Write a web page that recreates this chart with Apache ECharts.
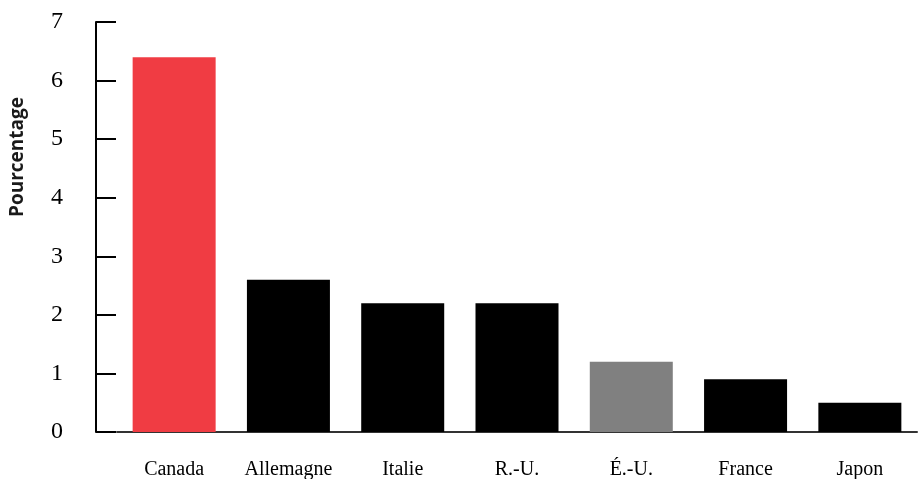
<!DOCTYPE html>
<html>
<head>
<meta charset="utf-8">
<script src="https://cdn.jsdelivr.net/npm/echarts@6/dist/echarts.min.js"></script>
<style>
  html, body { margin: 0; padding: 0; background: #fff; }
  #chart { width: 918px; height: 479px; }
</style>
</head>
<body>
<div id="chart"></div>
<script>
// Countries along the horizontal axis
const countries = ['Canada', 'Allemagne', 'Italie', 'R.-U.', 'É.-U.', 'France', 'Japon'];
// Percentage values per country
const values = [6.4, 2.6, 2.2, 2.2, 1.2, 0.9, 0.5];
// Bar fill per country
const barColors = ['#f03c43', '#000000', '#000000', '#000000', '#808080', '#000000', '#000000'];
// Vertical axis ticks
const yTicks = [0, 1, 2, 3, 4, 5, 6, 7];

const serif = '"Liberation Serif", "DejaVu Serif", serif';

const chart = echarts.init(document.getElementById('chart'), null, { renderer: 'canvas' });
chart.setOption({
  animation: false,
  backgroundColor: '#ffffff',
  grid: { left: 117, right: 1, top: 22, bottom: 47, containLabel: false, outerBoundsMode: 'none' },
  xAxis: {
    type: 'category',
    data: countries,
    axisLine: { show: true, lineStyle: { color: '#333333', width: 2 } },
    axisTick: { show: false },
    axisLabel: { margin: 28, fontFamily: serif, fontSize: 20, color: '#000' },
    splitLine: { show: false }
  },
  yAxis: {
    type: 'value',
    min: yTicks[0],
    max: yTicks[yTicks.length - 1],
    interval: 1,
    offset: 21,
    axisLine: { show: true, lineStyle: { color: '#000', width: 2 } },
    axisTick: { show: true, inside: true, length: 20, lineStyle: { color: '#000', width: 2 } },
    axisLabel: { margin: 33, fontFamily: serif, fontSize: 24, color: '#000' },
    splitLine: { show: false }
  },
  graphic: [{
    type: 'text',
    x: 18,
    y: 157,
    rotation: Math.PI / 2,
    style: {
      text: 'Pourcentage',
      fontFamily: '"Open Sans", "Noto Sans", sans-serif',
      fontWeight: 'bold',
      fontSize: 19,
      fill: '#1a1a1a',
      align: 'center',
      verticalAlign: 'middle'
    }
  }],
  series: [{
    type: 'bar',
    data: values.map((v, i) => ({ value: v, itemStyle: { color: barColors[i] } })),
    barWidth: 83
  }]
});
</script>
</body>
</html>
